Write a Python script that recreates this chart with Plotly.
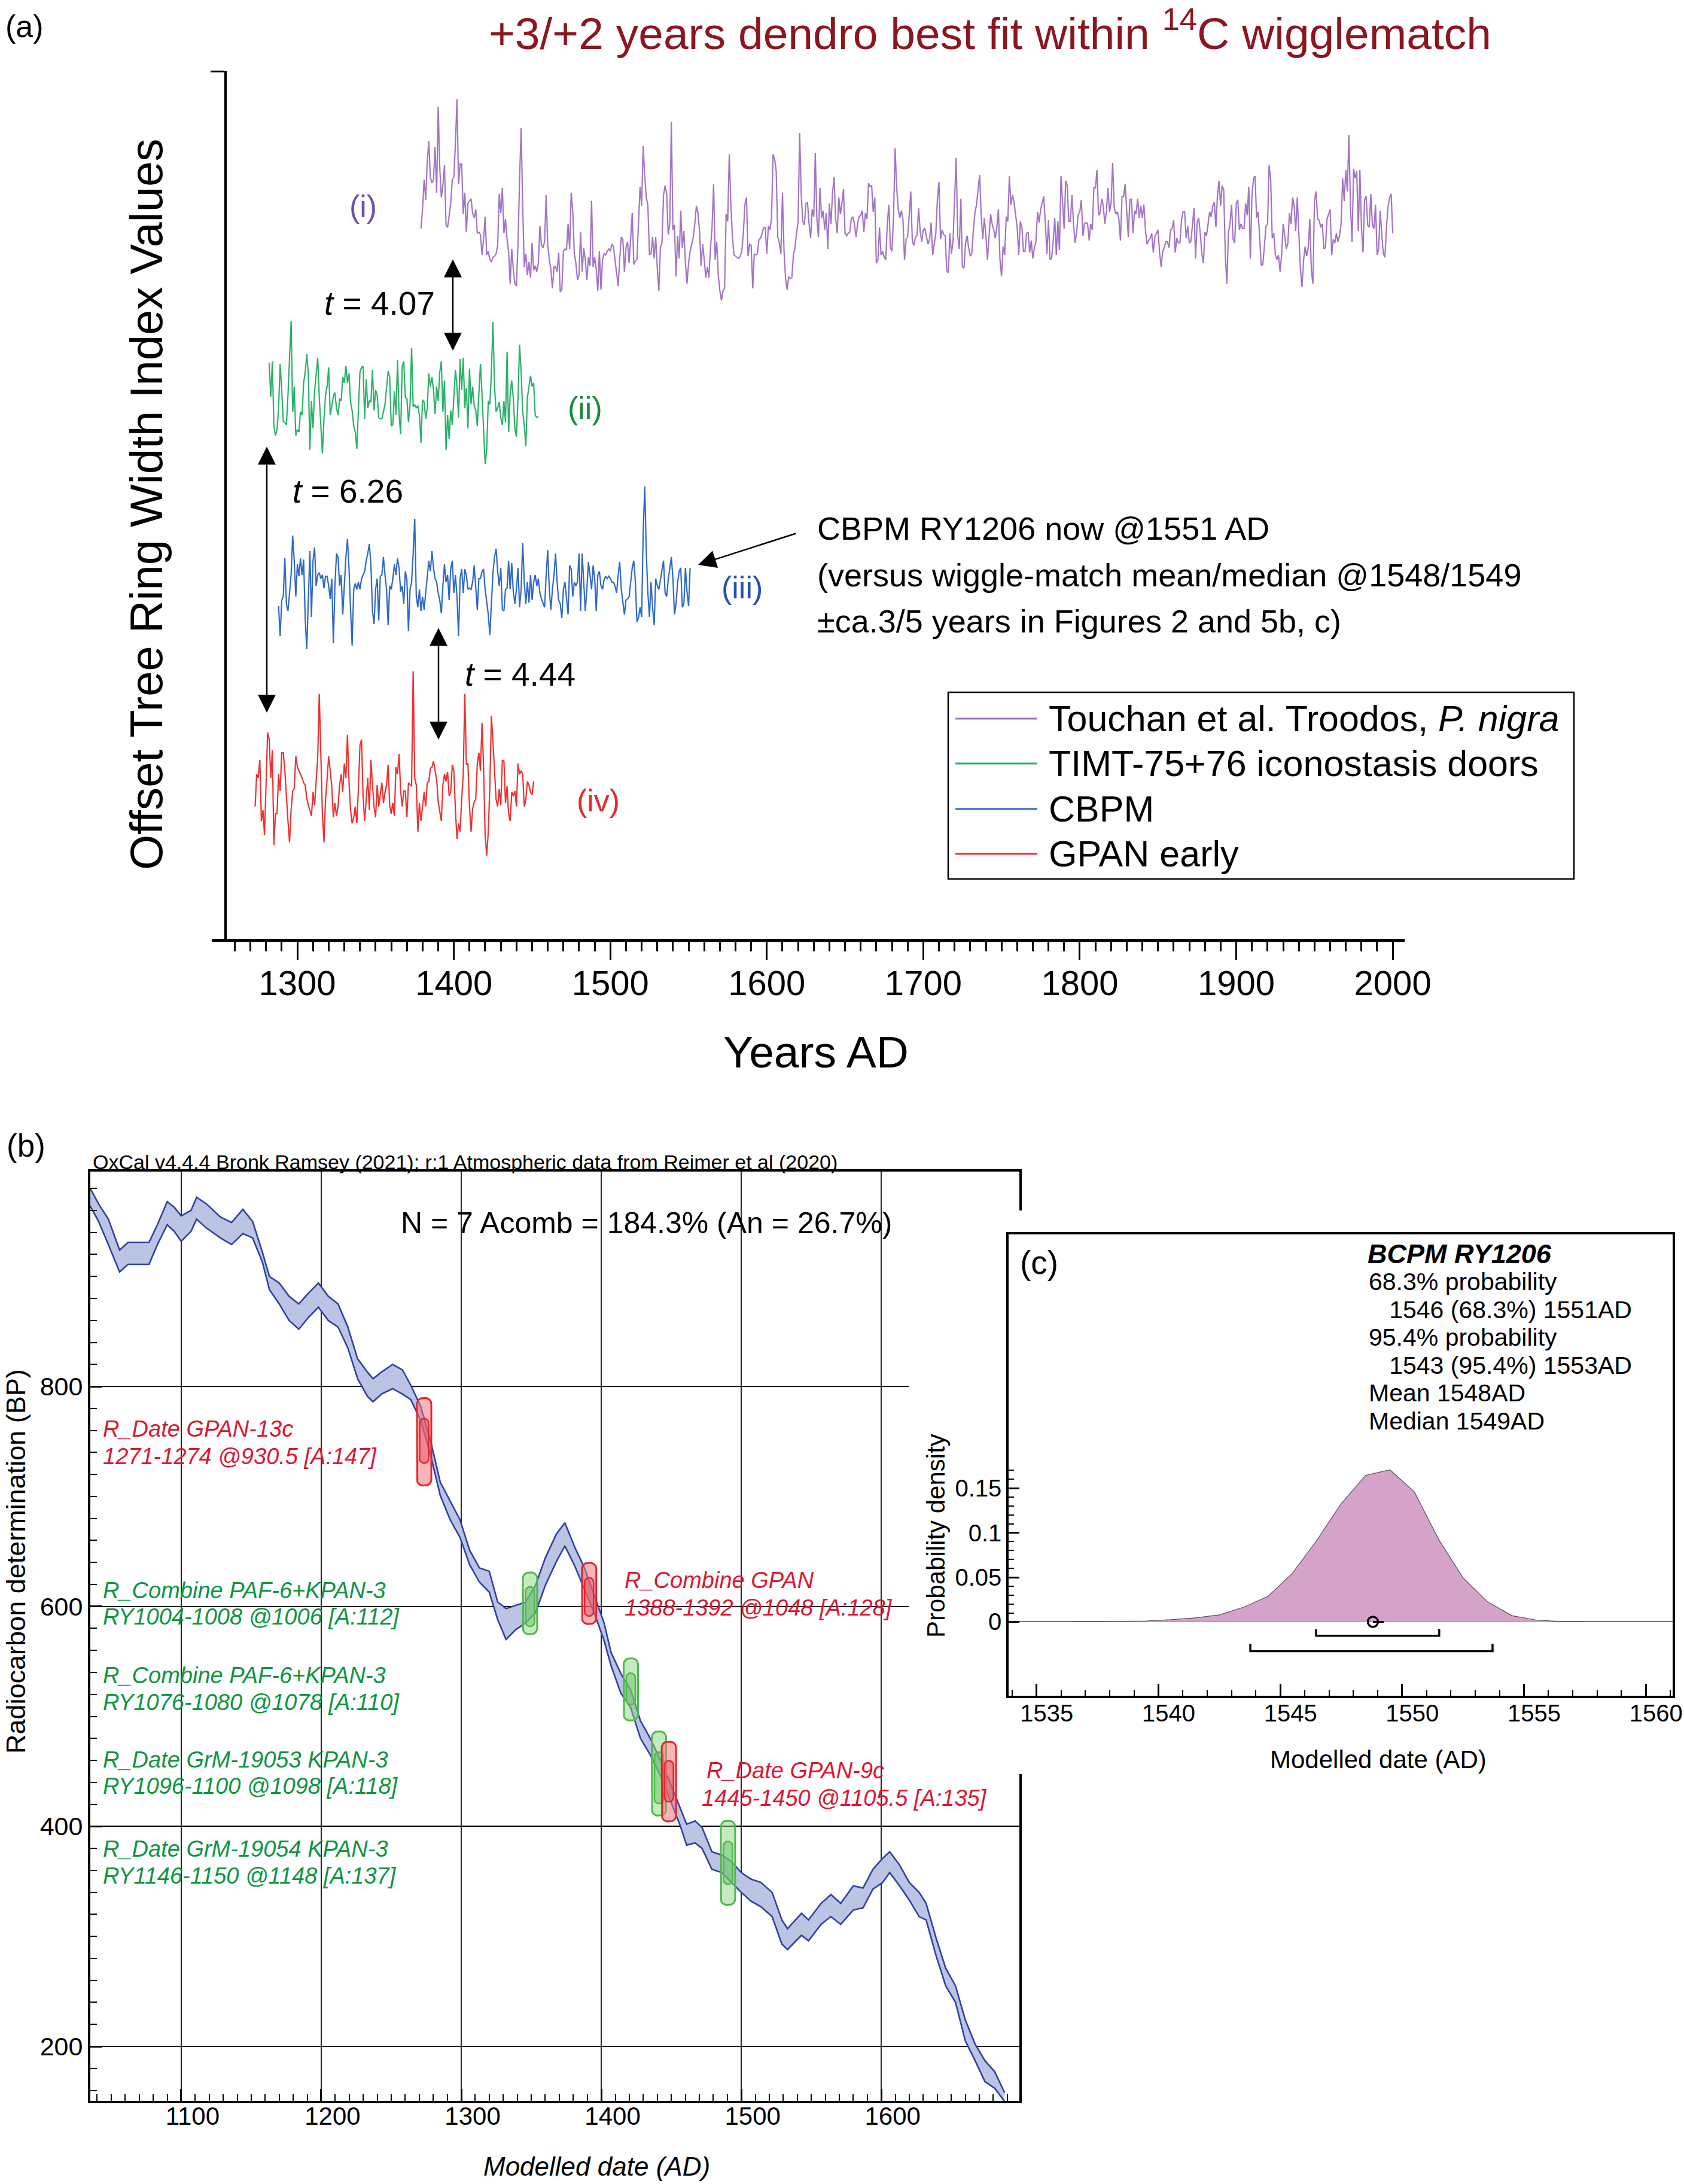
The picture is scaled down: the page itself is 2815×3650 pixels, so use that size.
import numpy as np
import plotly.graph_objects as go

W, H = 2815, 3650
def fx(p): return p / W
def fy(p): return 1 - p / H
FONT = "Liberation Sans"

# ------------------------------------------------------------------
# Panel (a) data: ring-width index series (one value per year)
# ------------------------------------------------------------------
touchan_start = 1379
touchan_index = [
 0.79,0.95,1.2,1.03,1.35,1.52,1.22,1.17,1.2,1.47,
 1.09,1.81,1.3,1.05,1.15,1.32,0.82,0.8,0.9,1.0,
 1.2,1.22,1.5,1.87,1.16,1.33,1.33,0.91,1.09,0.76,
 1.0,1.02,1.04,0.92,0.88,0.95,0.75,0.76,0.74,0.57,
 0.7,0.89,0.57,0.6,0.53,0.51,0.55,0.56,0.58,0.65,
 1.08,0.92,1.13,0.75,0.87,0.7,0.6,0.33,0.62,0.45,
 0.33,0.31,0.67,1.2,1.63,0.97,0.47,0.58,0.4,0.51,
 0.38,0.67,0.44,0.48,0.43,0.5,0.81,0.65,0.63,0.68,
 1.07,0.65,0.53,0.45,0.29,0.47,0.47,0.43,0.59,0.26,
 0.28,0.6,0.62,0.61,0.83,0.62,1.09,0.93,0.58,0.5,
 0.36,0.4,0.76,0.43,0.63,0.53,0.36,0.55,0.48,1.02,
 0.47,0.55,0.45,0.27,0.6,0.28,0.53,0.58,0.57,0.6,
 0.62,0.6,0.66,0.64,0.53,0.45,0.31,0.53,0.72,0.7,
 0.43,0.63,0.68,0.5,0.73,0.92,0.49,0.52,0.53,0.8,
 1.14,0.98,1.48,1.22,1.05,0.98,0.57,0.58,0.72,0.54,
 0.72,0.46,0.27,0.63,0.67,1.07,1.15,1.08,0.74,0.83,
 1.68,0.78,0.82,0.39,0.73,0.54,0.94,0.63,0.77,0.5,
 0.33,0.5,0.6,0.66,0.72,0.83,0.98,0.92,0.77,0.48,
 0.66,0.53,0.38,0.47,0.38,0.63,0.8,1.16,0.53,0.68,
 0.4,0.27,0.19,0.27,0.29,0.91,0.85,1.41,1.0,0.73,
 0.57,0.56,0.55,0.54,0.56,0.6,0.75,0.99,1.05,0.56,
 0.66,0.65,0.29,0.58,0.57,0.58,0.7,0.71,0.75,0.8,
 0.8,0.58,0.81,0.78,0.87,1.41,1.37,1.27,0.72,0.67,
 0.58,1.09,0.6,0.37,0.28,0.39,0.37,0.38,0.57,0.63,
 0.75,0.85,1.59,1.07,0.85,0.82,1.0,1.01,0.83,0.71,
 0.95,0.89,1.42,0.87,0.72,1.13,0.88,0.94,0.78,0.92,
 0.62,1.0,0.83,1.09,1.22,0.87,0.75,1.05,0.91,1.0,
 1.12,0.75,0.73,0.75,0.76,0.87,0.89,0.83,0.72,0.83,
 0.89,0.9,0.94,0.76,0.92,0.87,1.17,1.14,1.15,0.93,
 1.05,0.5,0.53,0.8,0.57,0.6,0.55,0.53,0.83,0.99,
 0.63,0.6,0.9,1.46,1.13,0.95,0.88,0.94,0.87,0.53,
 0.7,0.72,0.9,1.1,0.68,0.65,0.72,0.73,0.96,0.77,
 0.68,0.78,0.79,0.72,0.66,0.7,0.84,0.57,0.67,0.75,
 1.03,1.18,0.7,0.78,0.74,0.73,0.44,0.42,0.75,0.58,
 0.68,1.0,1.38,0.73,0.62,1.04,0.47,0.46,0.67,0.73,
 0.63,0.56,0.58,0.78,0.92,0.99,1.13,1.24,0.9,0.7,
 0.88,0.73,0.53,0.7,0.91,0.83,0.78,0.71,0.8,0.95,
 0.53,0.39,0.64,0.57,0.89,0.85,1.23,0.99,1.07,1.01,
 0.9,0.8,0.57,0.85,0.8,0.6,0.6,0.75,0.76,0.59,
 0.69,0.54,0.63,0.68,0.93,0.84,0.95,1.0,1.06,0.83,
 0.58,0.86,0.53,0.54,0.68,0.88,0.57,0.85,0.61,1.23,
 1.0,0.79,1.19,1.15,0.85,0.85,1.07,0.83,0.67,0.76,
 0.91,0.93,1.03,0.73,0.83,0.84,0.83,0.69,0.83,0.78,
 1.13,1.13,1.28,0.9,0.92,1.04,0.98,0.83,0.93,1.13,
 0.93,1.0,1.34,0.97,0.91,0.93,0.87,0.69,1.06,1.06,
 1.16,0.92,0.72,1.03,1.04,0.75,0.94,0.91,1.04,0.88,
 0.98,0.88,0.99,0.77,0.66,0.69,0.71,0.75,0.59,0.72,
 0.75,0.78,0.59,0.47,0.6,0.63,0.68,0.68,0.63,0.78,
 0.79,0.86,0.59,0.71,0.67,0.67,0.86,0.93,0.93,0.71,
 0.81,0.67,0.68,0.83,0.96,0.54,0.84,0.88,0.75,0.58,
 0.5,0.76,0.73,0.83,0.93,0.89,0.98,1.01,0.8,1.07,
 1.19,0.98,1.15,1.11,0.57,0.33,0.75,0.83,0.99,0.7,
 0.67,1.0,1.03,0.78,0.83,0.79,0.79,1.0,0.9,1.14,
 0.54,1.05,1.21,1.23,0.88,0.93,0.7,0.48,0.49,0.67,
 0.81,0.83,1.32,1.2,0.71,0.75,0.57,0.53,0.57,0.43,
 0.57,0.83,0.73,0.62,0.67,0.92,0.83,1.05,0.98,0.77,
 1.05,0.73,0.45,0.3,0.52,0.64,0.56,0.63,0.87,0.44,
 0.33,1.03,1.1,0.87,0.86,0.8,0.83,0.62,0.63,0.87,
 0.91,0.95,0.57,0.7,0.67,0.75,0.68,0.73,0.83,1.21,
 1.02,1.28,1.1,1.57,0.98,0.68,1.29,1.21,1.27,0.77,
 1.28,0.8,0.59,1.03,1.06,0.82,0.8,1.08,0.82,0.79,
 0.99,0.57,0.62,0.94,0.74,0.58,0.55,0.8,0.97,1.05,
 1.08,0.75]

timt_start = 1282
timt_index = [
 1.38,1.09,1.39,0.85,0.77,0.82,1.0,1.37,1.15,0.89,
 0.88,0.86,1.11,1.41,1.73,0.97,1.18,0.77,0.82,0.8,
 0.97,0.94,1.21,1.3,1.45,1.29,0.65,1.06,0.83,1.14,
 1.3,1.42,1.09,0.88,0.62,0.91,1.11,1.18,1.34,0.94,
 1.02,1.1,1.13,1.0,0.94,1.08,1.06,1.26,1.21,1.35,
 1.21,1.29,1.05,0.98,0.85,0.8,0.66,0.97,1.3,1.34,
 1.35,0.91,1.24,1.0,1.06,1.05,1.32,0.98,1.15,1.11,
 0.92,0.91,0.91,0.97,1.03,1.17,1.31,1.26,0.85,0.86,
 1.14,0.94,1.4,0.95,0.78,1.35,1.39,1.09,1.08,0.88,
 1.03,1.5,1.01,1.03,1.0,1.02,0.94,0.71,1.07,1.05,
 0.91,1.0,1.29,1.18,1.26,1.15,0.95,1.18,1.06,1.3,
 1.39,0.97,1.23,0.65,0.94,0.74,0.98,0.86,1.09,1.32,
 1.18,0.92,1.41,1.15,1.42,1.0,1.17,0.83,1.33,1.03,
 1.18,1.02,0.98,0.85,1.12,1.37,1.12,0.8,0.53,0.65,
 1.06,1.03,1.3,1.72,1.18,0.97,1.0,1.05,0.92,0.86,
 1.06,0.88,1.47,0.8,1.12,1.23,1.08,0.83,0.76,1.08,
 1.53,1.3,0.97,0.86,0.68,1.09,1.18,1.27,1.18,1.21,
 0.94,0.92,0.93]

cbpm_start = 1288
cbpm_index = [
 0.83,0.58,0.88,0.91,1.23,0.85,0.79,0.94,1.09,1.42,
 1.21,0.91,1.18,1.08,1.23,1.09,1.22,0.73,0.47,0.88,
 1.29,0.74,1.21,1.32,1.0,1.09,1.11,1.06,1.09,0.98,
 1.08,1.08,1.0,0.89,1.06,0.52,1.0,1.27,1.24,1.0,
 1.09,0.76,1.0,1.24,1.39,1.15,0.8,0.5,0.97,1.02,
 0.97,1.03,0.97,1.06,1.09,1.12,1.21,1.27,1.35,1.18,
 0.79,0.68,0.97,1.06,0.71,1.08,1.09,1.24,1.09,0.97,
 0.67,1.0,0.97,1.06,1.18,1.09,1.23,1.15,0.95,1.0,
 0.85,1.12,1.05,0.62,0.97,1.03,1.27,1.56,0.91,0.82,
 0.97,0.79,0.91,0.8,0.94,1.09,1.21,1.12,1.29,1.15,
 1.06,1.03,0.94,0.88,0.77,1.0,1.18,1.03,1.09,0.88,
 1.14,1.21,0.94,1.09,0.91,0.58,1.06,1.14,0.94,1.14,
 1.09,0.97,0.98,0.97,1.03,1.17,0.97,0.8,1.06,1.06,
 1.12,1.14,0.97,0.85,0.76,0.59,0.88,1.11,1.24,1.31,
 1.12,1.0,1.15,0.8,0.79,0.97,0.98,1.21,0.97,1.19,
 0.95,0.85,0.97,1.15,0.82,0.97,1.36,1.03,0.85,1.03,
 0.86,1.09,0.88,1.03,1.09,1.0,1.06,0.94,
 0.89,0.85,0.82,1.09,1.3,0.97,0.8,0.97,1.09,1.27,
 1.03,0.88,0.85,0.73,0.97,1.03,0.91,0.76,1.17,1.14,
 0.91,1.03,1.0,1.03,1.27,0.79,1.27,1.03,0.79,0.97,
 1.2,1.09,0.97,1.17,1.06,0.79,1.09,1.12,1.0,0.97,
 1.05,1.08,1.06,1.08,1.06,1.03,1.03,1.0,
 0.94,1.09,1.2,0.97,0.85,0.76,0.88,0.89,0.91,1.03,
 1.15,1.21,1.03,0.7,0.73,0.82,0.74,1.45,1.83,1.27,
 0.94,0.74,1.03,0.82,0.67,1.06,1.0,0.97,1.05,1.15,
 1.21,0.94,0.91,1.05,1.15,1.24,1.06,0.76,0.85,1.03,
 1.12,1.15,0.82,0.85,1.15,0.95,0.83,1.15]

gpan_start = 1273
gpan_index = [
 0.85,1.12,1.09,1.24,0.73,0.82,0.61,1.06,1.47,1.41,
 1.09,1.32,0.53,0.79,0.79,1.12,0.98,1.3,1.3,1.15,
 0.91,0.73,0.55,0.82,0.98,1.0,1.27,1.18,1.15,1.12,
 1.09,1.05,1.03,0.92,0.86,0.82,0.77,0.97,0.86,1.06,
 1.26,1.79,1.27,0.79,0.55,0.91,1.08,1.27,1.15,1.02,
 0.76,0.88,0.77,0.85,1.03,1.12,0.97,1.21,1.09,1.45,
 1.06,0.82,0.71,0.76,0.85,0.71,1.0,1.36,1.41,0.94,
 0.73,0.91,1.09,0.82,1.24,1.03,0.85,0.76,1.03,0.85,
 0.95,1.05,0.88,0.97,1.03,1.2,0.86,0.79,0.88,0.77,
 1.18,1.12,1.29,0.98,0.85,0.98,0.98,0.76,1.05,1.03,
 1.02,1.98,1.09,1.03,0.64,0.88,0.73,0.86,0.97,0.85,
 1.05,1.06,1.17,1.18,1.23,1.15,1.08,0.89,0.82,0.73,
 1.03,1.12,1.06,1.14,0.94,0.97,1.2,1.15,0.82,0.58,
 0.71,0.64,0.91,1.12,1.79,1.2,1.21,0.85,0.64,0.83,
 0.89,0.91,1.21,1.3,1.15,1.55,1.18,0.61,0.44,0.64,
 1.02,1.61,1.39,1.15,0.91,0.85,1.0,0.86,1.24,1.23,
 0.88,1.02,0.79,0.73,0.97,0.94,0.98,0.85,1.21,1.12,
 1.15,1.12,0.85,0.91,1.06,1.03,0.97,0.95,1.06]

series_names = ["Touchan et al. Troodos, <i>P. nigra</i>", "TIMT-75+76 iconostasis doors",
                "CBPM", "GPAN early"]
series_tags = ["(i)", "(ii)", "(iii)", "(iv)"]
t_values = ["4.07", "6.26", "4.44"]
a_ticks = list(range(1300, 2001, 100))
a_minor = list(range(1260, 2001, 10))

# ------------------------------------------------------------------
# Panel (b) data: calibration band (1-sigma envelope) and samples
# ------------------------------------------------------------------
cal_year  = [1035,1041,1048,1056,1062,1077,1083,1090,1095,1100,1107,1111,1118,1128,1136,1144,1151,
             1158,1163,1170,1177,1184,1191,1198,1205,1212,1219,1226,1233,1237,1243,1251,1258,1264,
             1271,1278,1285,1292,1299,1306,1313,1320,1326,1332,1339,1346,1353,1360,1368,1374,1381,
             1388,1395,1402,1407,1414,1421,1428,1435,1442,1449,1456,1461,1467,1472,1479,1486,1493,
             1500,1507,1514,1522,1529,1533,1543,1548,1557,1564,1571,1580,1587,1594,1601,1606,1613,
             1620,1627,1632,1639,1646,1653,1660,1667,1674,1681,1688]
cal_upper = [980,966,952,924,931,931,947,968,963,955,960,972,966,954,949,961,950,
             922,900,894,882,875,885,894,882,875,854,825,813,807,813,820,815,801,
             782,751,713,696,679,651,635,632,604,598,601,604,619,644,666,676,654,
             635,610,585,558,539,524,496,480,461,440,418,402,405,399,377,374,368,
             358,352,349,340,315,307,321,315,330,338,330,346,344,361,371,377,365,
             349,340,330,299,271,255,224,202,187,177,158]
cal_lower = [964,950,929,904,911,911,929,947,941,932,941,952,944,935,929,939,935,
             913,888,875,860,852,863,872,860,854,835,807,791,786,793,798,793,788,
             769,738,701,679,663,638,622,613,588,570,579,585,594,619,641,655,637,
             616,594,569,546,521,508,480,465,447,424,402,383,385,380,361,358,349,
             340,332,327,318,293,288,301,296,311,318,311,324,326,343,349,358,346,
             333,318,315,283,255,240,205,187,168,162,150]

sample_year     = [1273.5, 1349.1, 1391.3, 1421.1, 1441.2, 1448.3, 1490.5]
sample_outer_lo = [709.9, 574.7, 584.0, 496.3, 409.8, 404.5, 328.6]
sample_outer_hi = [789.5, 630.9, 639.6, 552.8, 486.3, 477.0, 405.1]
sample_inner_lo = [730.2, 581.8, 591.2, 510.7, 420.7, 422.3, 347.3]
sample_inner_hi = [770.8, 617.8, 626.2, 539.4, 467.6, 459.8, 386.4]
sample_group    = ["GPAN", "KPAN", "GPAN", "KPAN", "KPAN", "GPAN", "KPAN"]

label_line1 = ["R_Date GPAN-13c", "R_Combine PAF-6+KPAN-3", "R_Combine PAF-6+KPAN-3",
               "R_Date GrM-19053 KPAN-3", "R_Date GrM-19054 KPAN-3", "R_Combine GPAN", "R_Date GPAN-9c"]
label_line2 = ["1271-1274 @930.5 [A:147]", "RY1004-1008 @1006 [A:112]", "RY1076-1080 @1078 [A:110]",
               "RY1096-1100 @1098 [A:118]", "RY1146-1150 @1148 [A:137]", "1388-1392 @1048 [A:128]",
               "1445-1450 @1105.5 [A:135]"]
label_group = ["GPAN", "KPAN", "KPAN", "KPAN", "KPAN", "GPAN", "GPAN"]
b_xticks = list(range(1100, 1601, 100))
b_xminor = list(range(1040, 1691, 10))
b_yticks = [200, 400, 600, 800]
b_yminor = list(range(160, 991, 20))

# ------------------------------------------------------------------
# Panel (c) data: modelled date probability for CBPM RY1206
# ------------------------------------------------------------------
den_year = [1536.5,1537.5,1538.5,1539.5,1540.5,1541.5,1542.5,1543.5,1544.5,1545.5,1546.5,
            1547.5,1548.5,1549.5,1550.5,1551.5,1552.5,1553.5,1554.5,1555.5,1556.5,1557.5]
den_prob = [0.0,0.0002,0.0005,0.001,0.0024,0.0045,0.0078,0.0164,0.0287,0.0546,0.0916,
            0.1327,0.1643,0.1705,0.1459,0.0924,0.0493,0.0226,0.007,0.002,0.0004,0.0]
range_68 = [1546.47, 1551.52]
range_95 = [1543.77, 1553.71]
mean_date = 1548.8
c_xticks = list(range(1535, 1561, 5))
c_xminor = list(range(1534, 1562, 1))
c_yticks = [0, 0.05, 0.1, 0.15]
c_yticktext = ["0", "0.05", "0.1", "0.15"]
c_yminor = [round(0.01 * i, 2) for i in range(0, 18)]
c_text = ["68.3% probability", "  1546 (68.3%) 1551AD", "95.4% probability",
          "  1543 (95.4%) 1553AD", "Mean 1548AD", "Median 1549AD"]

# ------------------------------------------------------------------
# Styles
# ------------------------------------------------------------------
line_colors  = ["rgb(163,116,198)", "rgb(42,178,104)", "rgb(47,105,196)", "rgb(240,48,48)"]
tag_colors   = ["rgb(112,82,170)", "rgb(20,140,60)", "rgb(40,80,180)", "rgb(235,40,40)"]
offsets      = [5.145, 3.435, 1.95, 0.255]
RED_T, GREEN_T = "rgb(222,22,48)", "rgb(12,150,62)"
group_style = {
    "GPAN": dict(line="rgb(232,35,45)", outer="rgba(240,120,125,0.55)", inner="rgba(232,80,90,0.45)"),
    "KPAN": dict(line="rgb(80,185,75)", outer="rgba(140,212,130,0.5)", inner="rgba(100,195,95,0.45)"),
}

fig = go.Figure()

# ---------- panel (a) traces ----------
for vals, start, col, off in zip([touchan_index, timt_index, cbpm_index, gpan_index],
                                 [touchan_start, timt_start, cbpm_start, gpan_start],
                                 line_colors, offsets):
    yrs = list(range(start, start + len(vals)))
    fig.add_trace(go.Scatter(x=yrs, y=[off + v for v in vals], mode="lines",
                             line=dict(color=col, width=2.2), showlegend=False,
                             hoverinfo="skip", xaxis="x", yaxis="y"))

# ---------- panel (b) traces ----------
fig.add_trace(go.Scatter(x=cal_year, y=cal_lower, mode="lines", line=dict(color="rgb(45,65,165)", width=2.6),
                         showlegend=False, hoverinfo="skip", xaxis="x2", yaxis="y2"))
fig.add_trace(go.Scatter(x=cal_year, y=cal_upper, mode="lines", line=dict(color="rgb(45,65,165)", width=2.6),
                         fill="tonexty", fillcolor="rgb(188,196,228)",
                         showlegend=False, hoverinfo="skip", xaxis="x2", yaxis="y2"))

B_X0, B_X1, B_Y0, B_Y1 = 151, 1704, 1957.5, 3511
b_xrange = [1035.1, 1698.6]
b_yrange = [150.5, 995.6]
kx = (B_X1 - B_X0) / (b_xrange[1] - b_xrange[0])
ky = (B_Y1 - B_Y0) / (b_yrange[1] - b_yrange[0])

def rounded_rect(xc, half_w_px, y0, y1, r_px, n=10):
    hw = half_w_px / kx
    rx, ry = r_px / kx, r_px / ky
    x0, x1 = xc - hw, xc + hw
    corners = [(x1 - rx, y1 - ry, 0, 90), (x0 + rx, y1 - ry, 90, 180),
               (x0 + rx, y0 + ry, 180, 270), (x1 - rx, y0 + ry, 270, 360)]
    xs, ys = [], []
    for cx, cy, a0, a1 in corners:
        t = np.radians(np.linspace(a0, a1, n))
        xs += list(cx + rx * np.cos(t))
        ys += list(cy + ry * np.sin(t))
    xs.append(xs[0]); ys.append(ys[0])
    return xs, ys

for xc, olo, ohi, ilo, ihi, g in zip(sample_year, sample_outer_lo, sample_outer_hi,
                                     sample_inner_lo, sample_inner_hi, sample_group):
    st = group_style[g]
    xs, ys = rounded_rect(xc, 12, olo, ohi, 10)
    fig.add_trace(go.Scatter(x=xs, y=ys, mode="lines", fill="toself", fillcolor=st["outer"],
                             line=dict(color=st["line"], width=3), showlegend=False,
                             hoverinfo="skip", xaxis="x2", yaxis="y2"))
    xs, ys = rounded_rect(xc, 7.5, ilo, ihi, 7.5)
    fig.add_trace(go.Scatter(x=xs, y=ys, mode="lines", fill="toself", fillcolor=st["inner"],
                             line=dict(color=st["line"], width=2.5), showlegend=False,
                             hoverinfo="skip", xaxis="x2", yaxis="y2"))

# ---------- mask subplot (white inset background behind panel c) ----------
fig.add_trace(go.Scatter(x=[0], y=[0], mode="markers", marker=dict(opacity=0), showlegend=False,
                         hoverinfo="skip", xaxis="x3", yaxis="y3"))

# ---------- panel (c) traces ----------
fig.add_trace(go.Scatter(x=den_year, y=den_prob, mode="lines", fill="tozeroy",
                         fillcolor="rgb(213,162,201)", line=dict(color="rgb(90,80,90)", width=1.2),
                         showlegend=False, hoverinfo="skip", xaxis="x4", yaxis="y4"))
for rng, lvl, tick in [(range_68, -0.0156, 0.0074), (range_95, -0.0329, 0.0083)]:
    fig.add_trace(go.Scatter(x=[rng[0], rng[0], rng[1], rng[1]], y=[lvl + tick, lvl, lvl, lvl + tick],
                             mode="lines", line=dict(color="black", width=3.5), showlegend=False,
                             hoverinfo="skip", xaxis="x4", yaxis="y4"))
fig.add_trace(go.Scatter(x=[mean_date, mean_date + 0.45], y=[0, 0], mode="lines",
                         line=dict(color="black", width=3), showlegend=False, hoverinfo="skip",
                         xaxis="x4", yaxis="y4"))
fig.add_trace(go.Scatter(x=[mean_date], y=[0], mode="markers",
                         marker=dict(symbol="circle-open", size=17, color="black", line=dict(width=3.5)),
                         showlegend=False, hoverinfo="skip", xaxis="x4", yaxis="y4"))

# ------------------------------------------------------------------
# Axes
# ------------------------------------------------------------------
tick_font = lambda s: dict(family=FONT, size=s, color="black")
layout = dict(
    width=W, height=H, margin=dict(l=0, r=0, t=0, b=0, autoexpand=False),
    paper_bgcolor="white", plot_bgcolor="white",
    font=dict(family=FONT, color="black"), showlegend=False,
    xaxis=dict(domain=[fx(354), fx(2348)], range=[1245.3, 2007.6], anchor="y", automargin=False,
               showline=True, linewidth=5, linecolor="black", showgrid=False, zeroline=False,
               tickmode="array", tickvals=a_ticks, ticks="outside", ticklen=30, tickwidth=3,
               tickcolor="black", tickfont=tick_font(58), ticklabelstandoff=-11,
               minor=dict(tickmode="array", tickvals=a_minor, ticks="outside", ticklen=16,
                          tickwidth=2.5, tickcolor="black")),
    yaxis=dict(domain=[fy(1569), fy(119)], range=[0, 7.25], anchor="free", position=fx(377),
               automargin=False,
               showline=True, linewidth=3.5, linecolor="black", showgrid=False, zeroline=False,
               tickmode="array", tickvals=[7.25], ticks="outside", ticklen=23, tickwidth=3,
               tickcolor="black", showticklabels=False),
    xaxis2=dict(domain=[fx(B_X0), fx(B_X1)], range=b_xrange, anchor="y2", automargin=False,
                showline=True, mirror=True, linewidth=4, linecolor="black",
                showgrid=True, gridcolor="rgb(40,40,40)", gridwidth=1.5, zeroline=False,
                tickmode="array", tickvals=b_xticks, ticks="inside", ticklen=20, tickwidth=2.5,
                tickcolor="black", tickfont=tick_font(42), ticklabelshift=19, ticklabelstandoff=-14,
                minor=dict(tickmode="array", tickvals=b_xminor, ticks="inside", ticklen=11,
                           tickwidth=2, tickcolor="black", showgrid=False)),
    yaxis2=dict(domain=[fy(B_Y1), fy(B_Y0)], range=b_yrange, anchor="x2", automargin=False,
                showline=True, mirror=True, linewidth=4, linecolor="black",
                showgrid=True, gridcolor="black", gridwidth=2, zeroline=False,
                tickmode="array", tickvals=b_yticks, ticks="inside", ticklen=20, tickwidth=2.5,
                tickcolor="black", tickfont=tick_font(43),
                minor=dict(tickmode="array", tickvals=b_yminor, ticks="inside", ticklen=11,
                           tickwidth=2, tickcolor="black", showgrid=False)),
    xaxis3=dict(domain=[fx(1519), 1.0], range=[0, 1], anchor="y3", visible=False, automargin=False),
    yaxis3=dict(domain=[fy(2965), fy(2023)], range=[0, 1], anchor="x3", visible=False, automargin=False),
    xaxis4=dict(domain=[fx(1686), fx(2796)], range=[1533.85, 1561.1], anchor="y4", automargin=False,
                showline=True, mirror=True, linewidth=3.5, linecolor="black",
                showgrid=False, zeroline=False,
                tickmode="array", tickvals=c_xticks, ticks="inside", ticklen=20, tickwidth=2.5,
                tickcolor="black", tickfont=tick_font(40), ticklabelshift=17, ticklabelstandoff=-9,
                minor=dict(tickmode="array", tickvals=c_xminor, ticks="inside", ticklen=10,
                           tickwidth=2, tickcolor="black")),
    yaxis4=dict(domain=[fy(2834), fy(2063)], range=[-0.0829, 0.4346], anchor="x4", automargin=False,
                showline=True, mirror=True, linewidth=3.5, linecolor="black",
                showgrid=False, zeroline=True, zerolinecolor="rgb(120,120,120)", zerolinewidth=1.5,
                tickmode="array", tickvals=c_yticks, ticktext=c_yticktext, ticks="inside",
                ticklen=18, tickwidth=2.5, tickcolor="black", tickfont=tick_font(40),
                minor=dict(tickmode="array", tickvals=c_yminor, ticks="inside", ticklen=9,
                           tickwidth=2, tickcolor="black")),
)
fig.update_layout(**layout)

# ------------------------------------------------------------------
# Annotations / text
# ------------------------------------------------------------------
ann = []
def text(x, y, s, size, color="black", xanchor="left", yanchor="middle", angle=0):
    ann.append(dict(x=fx(x), y=fy(y), xref="paper", yref="paper", text=s, showarrow=False,
                    xanchor=xanchor, yanchor=yanchor, textangle=angle,
                    font=dict(family=FONT, size=size, color=color)))

# panel (a)
text(7, 44, "(a)", 52)
text(1655, 50, "+3/+2 years dendro best fit within <sup>14</sup>C wigglematch", 75,
     color="rgb(140,22,32)", xanchor="center")
text(244, 843, "Offset Tree Ring Width Index Values", 76, xanchor="center", angle=-90)
text(1364, 1758, "Years AD", 75, xanchor="center")
for (x, y), tag, col in zip([(607, 345), (978, 682), (1240, 982), (1000, 1338)], series_tags, tag_colors):
    text(x, y, tag, 52, color=col, xanchor="center")
for (x, y), tv in zip([(540, 507), (487, 821), (775, 1127)], t_values):
    text(x, y, "<i>t</i> = " + tv, 55)
text(1364, 883, "CBPM RY1206 now @1551 AD", 54)
text(1364, 961, "(versus wiggle-match mean/median @1548/1549", 54)
text(1364, 1038, "\u00b1ca.3/5 years in Figures 2 and 5b, c)", 54)
legend_rows = [1201, 1276, 1352, 1427]
for y, name in zip(legend_rows, series_names):
    text(1751, y, name, 61)

# double-headed arrows
for x, y_top, y_bot in [(757, 432, 586), (446, 745, 1191), (733, 1048, 1236)]:
    ann.append(dict(x=fx(x), y=fy(y_bot), xref="paper", yref="paper", ax=0, ay=-(y_bot - y_top),
                    axref="pixel", ayref="pixel", text="", showarrow=True, arrowside="end+start",
                    arrowhead=2, startarrowhead=2, arrowsize=2.4, startarrowsize=2.4,
                    arrowwidth=2.5, arrowcolor="black"))
ann.append(dict(x=fx(1167), y=fy(944), xref="paper", yref="paper", ax=1332 - 1167, ay=891 - 944,
                text="", showarrow=True, arrowhead=2, arrowsize=2.4, arrowwidth=2.5, arrowcolor="black"))

# panel (b)
text(9, 1914, "(b)", 53)
text(153, 1942, "OxCal v4.4.4 Bronk Ramsey (2021); r:1 Atmospheric data from Reimer et al (2020)", 34)
text(1080, 2044, "N = 7 Acomb = 184.3% (An = 26.7%)", 50, xanchor="center")
text(26, 2610, "Radiocarbon determination (BP)", 45, xanchor="center", angle=-90)
text(998, 3620, "<i>Modelled date (AD)</i>", 44, xanchor="center")
label_pos = [(170, 2388, 170, 2434), (170, 2658, 170, 2702), (170, 2800, 170, 2845),
             (170, 2941, 170, 2985), (170, 3090, 170, 3135), (1042, 2641, 1042, 2687),
             (1179, 2959, 1171, 3005)]
for l1, l2, g, (x1, y1, x2, y2) in zip(label_line1, label_line2, label_group, label_pos):
    col = RED_T if g == "GPAN" else GREEN_T
    text(x1, y1, "<i>" + l1 + "</i>", 38, color=col)
    text(x2, y2, "<i>" + l2 + "</i>", 38, color=col)

# panel (c)
text(1703, 2110, "(c)", 55)
text(2284, 2095, "<b><i>BCPM RY1206</i></b>", 45)
for i, s in enumerate(c_text):
    text(2286, 2142 + i * 46.5, s.replace("  ", "\u00a0\u00a0\u00a0"), 41)
text(1564, 2567, "Probability density", 42, xanchor="center", angle=-90)
text(2304, 2940, "Modelled date (AD)", 42, xanchor="center")

fig.update_layout(annotations=ann)

# manual legend box for panel (a)
shapes = [dict(type="rect", xref="paper", yref="paper", x0=fx(1585), x1=fx(2631),
               y0=fy(1469), y1=fy(1157), line=dict(color="black", width=2.5), fillcolor="rgba(0,0,0,0)")]
for y, col in zip(legend_rows, line_colors):
    shapes.append(dict(type="line", xref="paper", yref="paper", x0=fx(1597), x1=fx(1734),
                       y0=fy(y), y1=fy(y), line=dict(color=col, width=3)))
fig.update_layout(shapes=shapes)

fig.write_html("out.html", config={"displayModeBar": False},
               post_script="document.body.style.margin='0';document.body.style.overflow='hidden';")
